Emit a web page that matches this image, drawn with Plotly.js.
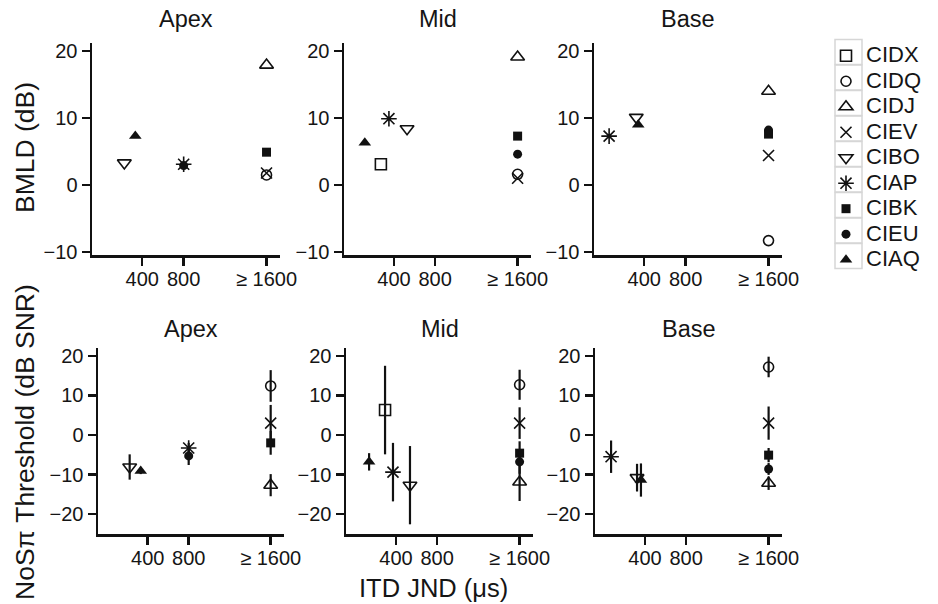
<!DOCTYPE html>
<html><head><meta charset="utf-8">
<script src="https://cdn.plot.ly/plotly-3.0.1.min.js"></script>
<style>html,body{margin:0;padding:0;background:#fff}</style>
</head><body><div id="chart" style="width:938px;height:604px"></div>
<script>
// ---- data ----
const series = ['CIDX','CIDQ','CIDJ','CIEV','CIBO','CIAP','CIBK','CIEU','CIAQ'];
const symbols = ['square-open','circle-open','triangle-up-open','x-thin-open','triangle-down-open','asterisk-open','square','circle','triangle-up'];
const sizes = [11,10,12,11,12,13,9,9,11];
const regions = ['Apex','Mid','Base'];
const xTickVals = [400, 800, 1600];
const xTickText = ['400', '800', '\u2265 1600'];
const yTicksTop = [-10, 0, 10, 20];
const yTicksBottom = [-20, -10, 0, 10, 20];

// BMLD (dB) - top row (order follows `series`, null = not shown)
const bmldApexX = [null, 1600, 1600, 1600, 227, 800, 1600, 800, 333];
const bmldApexY = [null, 1.5, 17.9, 1.8, 3.3, 3.1, 4.9, 2.9, 7.3];
const bmldMidX  = [273, 1600, 1600, 1600, 527, 351, 1600, 1600, 117];
const bmldMidY  = [3.1, 1.6, 19.1, 1.0, 8.4, 9.9, 7.3, 4.6, 6.3];
const bmldBaseX = [null, 1600, 1600, 1600, 323, 61, 1600, 1600, 342];
const bmldBaseY = [null, -8.3, 14.0, 4.4, 10.1, 7.3, 7.6, 8.2, 9.0];

// NoSpi threshold (dB SNR) - bottom row, with error half-widths
const thrApexX = [null, 1600, 1600, 1600, 224, 800, 1600, 800, 332];
const thrApexY = [null, 12.4, -12.7, 3.0, -8.1, -3.3, -2.0, -5.3, -9.1];
const thrApexE = [null, 4.0, 2.8, 4.6, 3.2, 1.3, 3.0, 2.3, 0.8];
const thrMidX  = [294, 1600, 1600, 1600, 536, 371, 1600, 1600, 139];
const thrMidY  = [6.3, 12.7, -11.9, 3.0, -12.7, -9.4, -4.6, -6.8, -6.8];
const thrMidE  = [11.2, 3.8, 4.8, 4.0, 9.9, 7.4, 3.0, 3.0, 2.2];
const thrBaseX = [null, 1600, 1600, 1600, 323, 71, 1600, 1600, 361];
const thrBaseY = [null, 17.2, -12.2, 3.0, -10.8, -5.5, -5.1, -8.6, -11.4];
const thrBaseE = [null, 2.6, 1.7, 4.2, 3.5, 4.1, 1.8, 1.5, 4.2];

// ---- layout helpers ----
const W = 938, H = 604;
const FONT = 'Liberation Sans, Arial, Helvetica, sans-serif';
const TXT = '#151515';
const panels = [
  {x: bmldApexX, y: bmldApexY, e: null},
  {x: bmldMidX,  y: bmldMidY,  e: null},
  {x: bmldBaseX, y: bmldBaseY, e: null},
  {x: thrApexX,  y: thrApexY,  e: thrApexE},
  {x: thrMidX,   y: thrMidY,   e: thrMidE},
  {x: thrBaseX,  y: thrBaseY,  e: thrBaseE}
];
const xDomPx = [[92,280],[344,531],[594,782],[98,284],[346,533],[595,782]];
const yDomPx = [[43,255],[348,534]];
const xRange = [-85, 1730];
const yRangeTop = [-10.45, 21.2];
const yRangeBottom = [-25.05, 22.0];

const traces = [];
series.forEach((name, s) => {
  let first = true;
  panels.forEach((p, k) => {
    if (p.x[s] === null) return;
    const sfx = k === 0 ? '' : String(k + 1);
    const open = symbols[s].indexOf('open') >= 0;
    const tr = {
      type: 'scatter', mode: 'markers',
      x: [p.x[s]], y: [p.y[s]],
      xaxis: 'x' + sfx, yaxis: 'y' + sfx,
      name: '<span style="font-size:22px">' + name + '</span>',
      legendgroup: name, showlegend: first,
      cliponaxis: false, hoverinfo: 'x+y',
      marker: {symbol: symbols[s], size: sizes[s], color: '#111',
               line: {color: '#111', width: open ? 1.6 : 0}}
    };
    if (p.e) tr.error_y = {type: 'data', array: [p.e[s]], symmetric: true,
                           color: '#111', thickness: 2.2, width: 0};
    traces.push(tr);
    first = false;
  });
});

const layout = {
  width: W, height: H,
  margin: {l: 0, r: 0, t: 0, b: 0, autoexpand: false},
  paper_bgcolor: '#fff', plot_bgcolor: '#fff',
  font: {family: FONT, color: TXT},
  showlegend: true,
  legend: {x: 826 / W, y: 1 - 38 / H, xanchor: 'left', yanchor: 'top',
           font: {size: 17.3, family: FONT, color: TXT}, bgcolor: 'rgba(0,0,0,0)',
           tracegroupgap: 0, itemsizing: 'trace', borderwidth: 0},
  annotations: [], shapes: []
};

for (let k = 0; k < 6; k++) {
  const row = k < 3 ? 0 : 1;
  const sfx = k === 0 ? '' : String(k + 1);
  const xd = xDomPx[k], yd = yDomPx[row];
  layout['xaxis' + sfx] = {
    domain: [xd[0] / W, xd[1] / W], range: xRange, anchor: 'y' + sfx,
    showline: true, linecolor: '#111', linewidth: 2.5, mirror: false,
    ticks: 'outside', ticklen: 8, tickwidth: 2.5, tickcolor: '#111',
    tickvals: xTickVals, ticktext: xTickText, tickangle: 0,
    ticklabelstandoff: -4,
    tickfont: {size: 20, family: FONT, color: TXT},
    showgrid: false, zeroline: false, fixedrange: true
  };
  layout['yaxis' + sfx] = {
    domain: [1 - yd[1] / H, 1 - yd[0] / H],
    range: row === 0 ? yRangeTop : yRangeBottom, anchor: 'x' + sfx,
    showline: true, linecolor: '#111', linewidth: 2.5,
    ticks: 'outside', ticklen: 8, tickwidth: 2.5, tickcolor: '#111',
    tickvals: row === 0 ? yTicksTop : yTicksBottom,
    tickfont: {size: 20, family: FONT, color: TXT},
    showgrid: false, zeroline: false, fixedrange: true
  };
  layout.annotations.push({
    text: regions[k % 3], xref: 'paper', yref: 'paper',
    x: (xd[0] + xd[1]) / 2 / W, y: 1 - (row === 0 ? 19 : 329) / H,
    xanchor: 'center', yanchor: 'middle', showarrow: false,
    font: {size: 23.5, family: FONT, color: TXT}
  });
}

layout.annotations.push(
  {text: 'BMLD (dB)', textangle: -90, xref: 'paper', yref: 'paper',
   x: 25 / W, y: 1 - 148 / H, xanchor: 'center', yanchor: 'middle', showarrow: false,
   font: {size: 26.5, family: FONT, color: TXT}},
  {text: 'NoS\u03c0 Threshold (dB SNR)', textangle: -90, xref: 'paper', yref: 'paper',
   x: 25 / W, y: 1 - 442 / H, xanchor: 'center', yanchor: 'middle', showarrow: false,
   font: {size: 26.5, family: FONT, color: TXT}},
  {text: 'ITD JND (\u03bcs)', xref: 'paper', yref: 'paper',
   x: 433 / W, y: 1 - 588 / H, xanchor: 'center', yanchor: 'middle', showarrow: false,
   font: {size: 25.5, family: FONT, color: TXT}}
);

// light grey key boxes behind legend symbols
for (let i = 0; i < series.length; i++) {
  const yc = 52 + i * 25.5;
  layout.shapes.push({type: 'rect', xref: 'paper', yref: 'paper',
    x0: 835 / W, x1: 862 / W, y0: 1 - (yc - 12.4) / H, y1: 1 - (yc + 12.4) / H,
    line: {color: '#d6d6d6', width: 1.5}, fillcolor: 'rgba(0,0,0,0)', layer: 'below'});
}

Plotly.newPlot('chart', traces, layout, {staticPlot: true, displayModeBar: false});
</script></body></html>
